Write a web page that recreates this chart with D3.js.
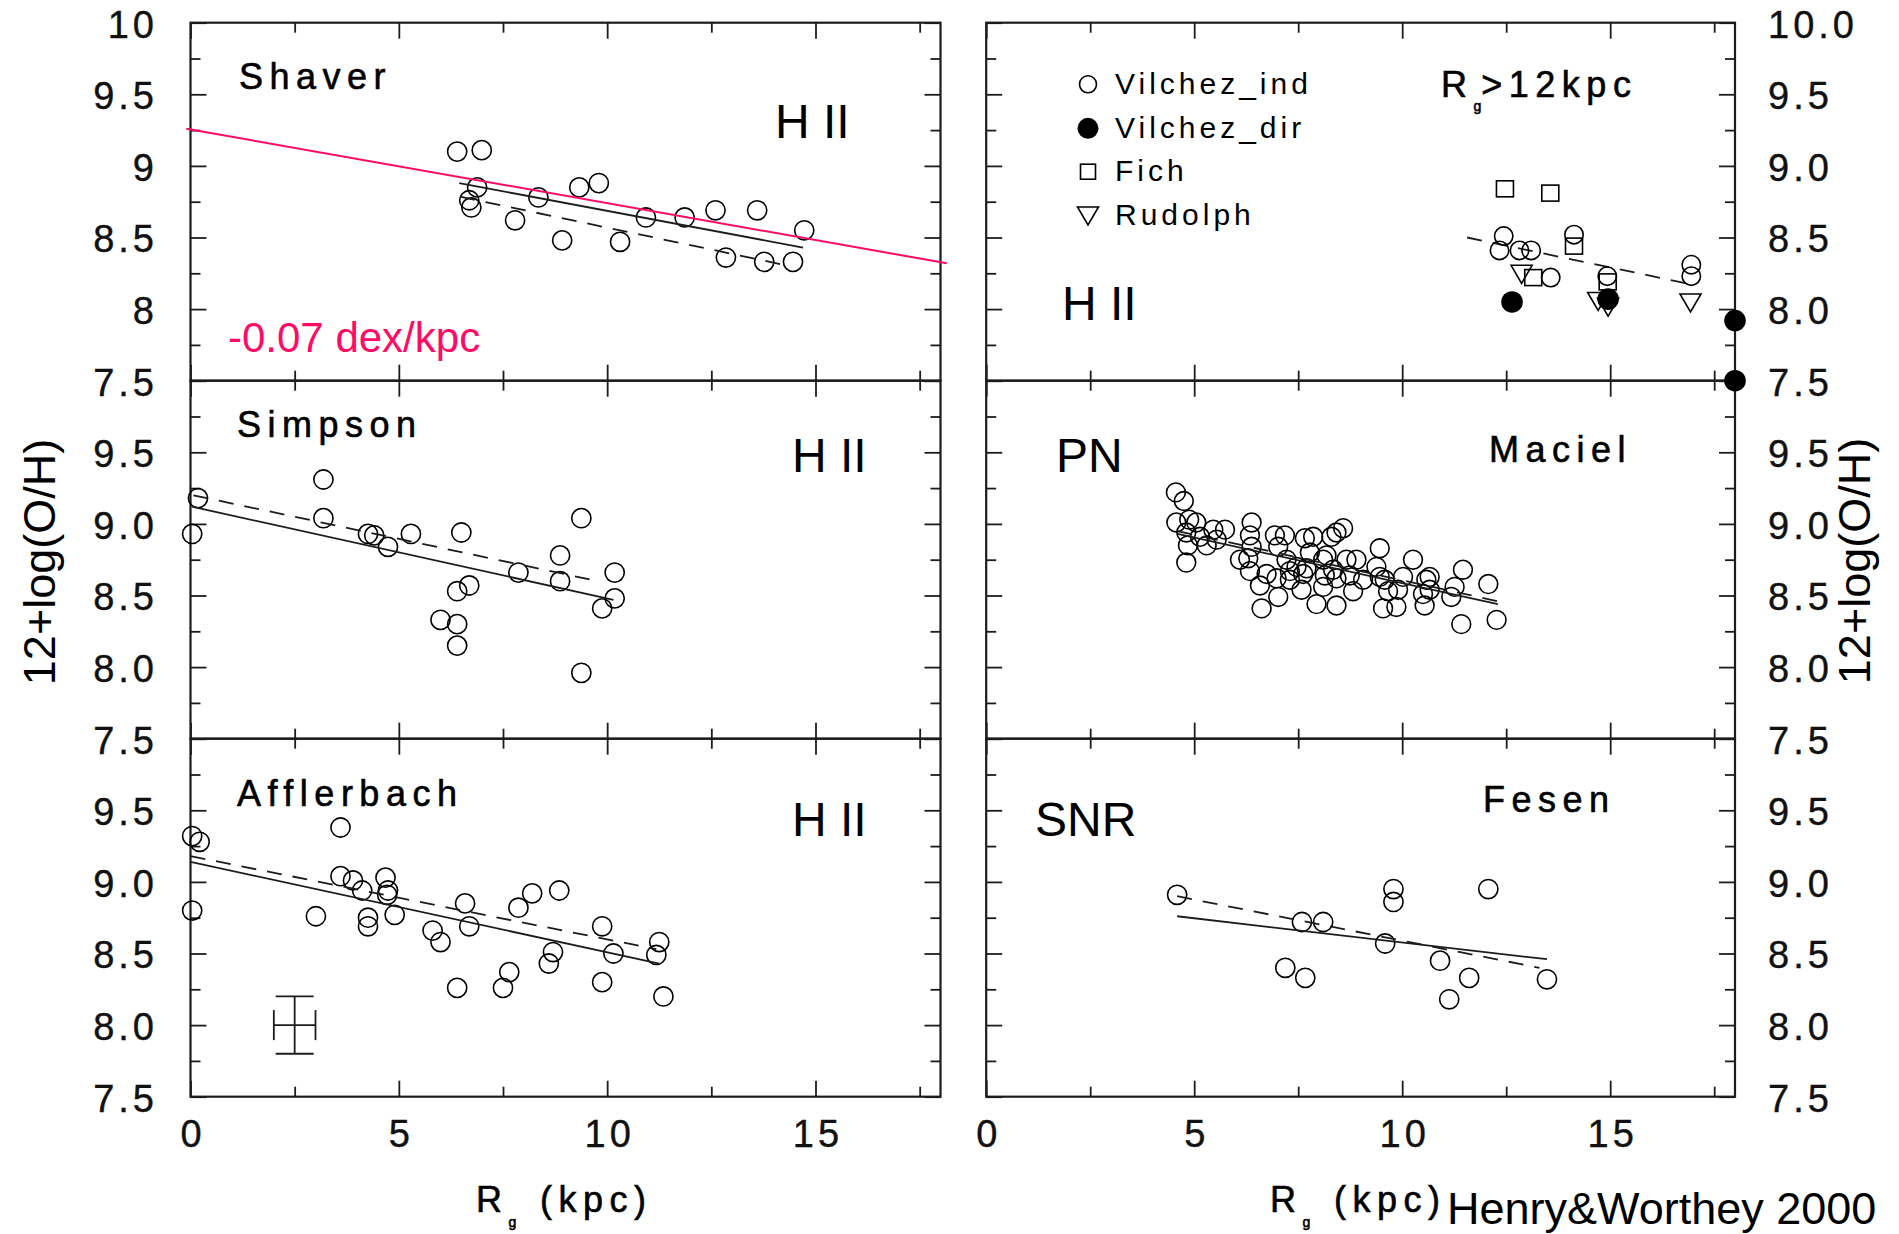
<!DOCTYPE html>
<html>
<head>
<meta charset="utf-8">
<script src="https://cdn.jsdelivr.net/npm/d3@7"></script>
<style>
body{margin:0;background:#fff;}
text{font-family:"Liberation Sans",Arial,sans-serif;}
</style>
</head>
<body>
<script>
// ---- data (Rg in kpc, 12+log(O/H)) ----
var shaver = [[6.40,9.10],[6.99,9.11],[6.88,8.85],[6.69,8.76],[6.74,8.71],[7.79,8.62],[8.35,8.78],[8.92,8.48],[9.33,8.85],[9.80,8.88],[10.31,8.47],[10.93,8.64],[11.86,8.64],[12.60,8.69],[12.85,8.36],[13.60,8.69],[13.77,8.33],[14.46,8.33],[14.73,8.55]];
var shaverFit = [[6.45,8.88],[14.70,8.43]];
var shaverFitDash = [[6.47,8.785],[14.23,8.31]];
var shaverGradient = [[-0.1,9.26],[18.15,8.32]];

var simpson = [[0.04,8.93],[0.18,9.18],[3.19,9.31],[3.19,9.04],[4.26,8.93],[4.41,8.92],[4.74,8.84],[5.29,8.93],[6.50,8.94],[6.69,8.57],[6.40,8.53],[6.00,8.33],[6.40,8.30],[6.40,8.15],[7.87,8.66],[8.87,8.78],[8.87,8.60],[9.38,9.04],[9.38,7.96],[10.18,8.66],[10.18,8.48],[9.88,8.41]];
var simpsonFit = [[0.04,9.12],[10.15,8.47]];
var simpsonFitDash = [[0.07,9.20],[9.78,8.60]];

var afflerbach = [[0.04,9.32],[0.22,9.28],[0.04,8.80],[3.01,8.76],[3.60,9.38],[3.60,9.04],[3.90,9.01],[4.12,8.94],[4.26,8.75],[4.26,8.69],[4.68,9.03],[4.74,8.94],[4.72,8.91],[4.90,8.77],[5.81,8.66],[6.00,8.58],[6.40,8.26],[6.59,8.85],[6.69,8.69],[7.50,8.26],[7.65,8.37],[7.87,8.82],[8.20,8.92],[8.60,8.43],[8.70,8.51],[8.85,8.94],[9.88,8.69],[9.88,8.30],[10.15,8.50],[11.18,8.49],[11.25,8.58],[11.35,8.20]];
var afflerbachFit = [[0.0,9.14],[11.25,8.43]];
var afflerbachFitDash = [[0.0,9.18],[11.18,8.53]];
var errBar = {x:2.5, y:8.0, dx:0.5, dy:0.2};

var vilchezInd = [[12.44,8.51],[12.34,8.41],[12.82,8.41],[13.10,8.41],[13.57,8.22],[14.13,8.52],[14.93,8.23],[16.95,8.31],[16.95,8.23]];
var vilchezDir = [[12.64,8.05],[14.95,8.07],[18.0,7.92],[18.0,7.50]];
var fich = [[12.47,8.84],[13.56,8.81],[14.13,8.44],[13.15,8.22],[14.94,8.19]];
var rudolph = [[12.87,8.25],[14.71,8.06],[14.95,8.02],[16.93,8.05]];
var outerFitDash = [[11.56,8.50],[17.0,8.17]];

var maciel = [[4.56,9.22],[4.75,9.16],[4.57,9.01],[4.88,9.03],[5.05,9.01],[4.81,8.94],[5.14,8.91],[5.30,8.85],[5.46,8.96],[5.74,8.96],[4.81,8.73],[4.85,8.85],[6.38,9.01],[6.34,8.92],[6.30,8.76],[6.38,8.84],[6.34,8.67],[6.58,8.57],[6.62,8.41],[6.94,8.92],[7.18,8.92],[7.02,8.84],[7.22,8.75],[7.30,8.67],[6.98,8.62],[7.30,8.61],[7.02,8.49],[7.46,8.70],[7.66,8.90],[7.86,8.91],[7.78,8.80],[7.70,8.69],[8.10,8.75],[8.30,8.91],[8.58,8.97],[8.42,8.94],[8.14,8.64],[8.34,8.68],[8.42,8.62],[8.66,8.75],[8.74,8.64],[8.90,8.75],[8.10,8.56],[7.94,8.44],[8.42,8.43],[8.82,8.53],[8.18,8.78],[9.46,8.83],[9.46,8.63],[9.38,8.70],[9.58,8.61],[9.66,8.53],[9.54,8.41],[9.86,8.42],[9.90,8.54],[10.26,8.75],[10.02,8.63],[10.58,8.61],[10.66,8.63],[10.50,8.51],[10.54,8.43],[10.66,8.54],[11.18,8.49],[11.26,8.56],[11.46,8.68],[12.07,8.58],[11.42,8.30],[12.27,8.33],[7.62,8.65],[6.74,8.65],[6.10,8.75],[5.54,8.89],[9.06,8.61],[7.58,8.54]];
var macielFit = [[4.6,8.93],[12.3,8.44]];
var macielFitDash = [[4.6,8.95],[12.3,8.46]];

var fesen = [[4.59,8.91],[7.19,8.40],[7.67,8.33],[7.59,8.72],[8.10,8.72],[9.59,8.57],[9.79,8.95],[9.79,8.86],[10.91,8.45],[11.13,8.18],[11.61,8.33],[12.07,8.95],[13.48,8.32]];
var fesenFit = [[4.59,8.76],[13.48,8.46]];
var fesenFitDash = [[4.59,8.90],[13.30,8.40]];

var xMajor = [0,5,10,15], xMinor = [2.5,7.5,12.5,17.5];
var xTickLabels = ["0","5","10","15"];
var yMajor = [7.5,8,8.5,9,9.5,10], yMinor = [7.75,8.25,8.75,9.25,9.75];
var yLabelsLeftTop = ["7.5","8","8.5","9","9.5","10"];
var yLabelsRightTop = ["7.5","8.0","8.5","9.0","9.5","10.0"];
var yLabelsLower = ["7.5","8.0","8.5","9.0","9.5"];

var legendNames = ["Vilchez_ind","Vilchez_dir","Fich","Rudolph"];

// ---- layout ----
var width = 1899, height = 1234;
var tops = [22.7, 380.7, 738.7], ph = 358;
var ink = "#1c1c1c";
var pink = "#ff0a64";

var svg = d3.select("body").append("svg")
	.attr("width", width)
	.attr("height", height);

var xLeft = d3.scaleLinear().domain([0,18]).range([190.5,940.5]);
var xRight = d3.scaleLinear().domain([0,18]).range([986.2,1735]);
var yScales = tops.map(function(t){ return d3.scaleLinear().domain([7.5,10]).range([t+ph, t]); });

var line = function(x, y){ return d3.line().x(function(d){return x(d[0]);}).y(function(d){return y(d[1]);}); };

function tickAxes(x, y){
	var x0 = x.range()[0], x1 = x.range()[1], yb = y.range()[0], yt = y.range()[1];
	var g = svg.append("g").attr("stroke", ink);
	var defs = [
		[d3.axisBottom(x).tickValues(xMajor).tickSize(-16), "translate(0,"+yb+")"],
		[d3.axisBottom(x).tickValues(xMinor).tickSize(-10), "translate(0,"+yb+")"],
		[d3.axisTop(x).tickValues(xMajor).tickSize(-16), "translate(0,"+yt+")"],
		[d3.axisTop(x).tickValues(xMinor).tickSize(-10), "translate(0,"+yt+")"],
		[d3.axisLeft(y).tickValues(yMajor).tickSize(-16), "translate("+x0+",0)"],
		[d3.axisLeft(y).tickValues(yMinor).tickSize(-10), "translate("+x0+",0)"],
		[d3.axisRight(y).tickValues(yMajor).tickSize(-16), "translate("+x1+",0)"],
		[d3.axisRight(y).tickValues(yMinor).tickSize(-10), "translate("+x1+",0)"]
	];
	defs.forEach(function(d){
		g.append("g").attr("transform", d[1])
			.call(d[0].tickSizeOuter(0).tickFormat(""))
			.call(function(s){ s.select(".domain").remove(); s.selectAll("line").attr("stroke", ink).attr("stroke-width", 1.8); });
	});
	svg.append("rect")
		.attr("x", x0).attr("y", yt)
		.attr("width", x1-x0).attr("height", yb-yt)
		.attr("fill", "none").attr("stroke", ink).attr("stroke-width", 2.2);
}

function styleLabels(s){
	s.select(".domain").remove();
	s.selectAll("text")
		.attr("font-family", "'Liberation Sans', Arial, sans-serif")
		.attr("font-size", 38)
		.attr("letter-spacing", 4)
		.attr("fill", "#111")
		.attr("stroke", "#111")
		.attr("stroke-width", 0.4);
}

function yLabels(y, side, vals, labels){
	var ax = side == "left" ? d3.axisLeft(y).tickPadding(32.5) : d3.axisRight(y).tickPadding(33);
	var pos = side == "left" ? 190.5 : 1735;
	svg.append("g").attr("transform", "translate("+pos+",0)")
		.call(ax.tickValues(vals).tickSize(0).tickFormat(function(d,i){ return labels[i]; }))
		.call(styleLabels)
		.selectAll("text").attr("dy", "0.38em");
}

function xLabels(x, y){
	svg.append("g").attr("transform", "translate(2,"+y.range()[0]+")")
		.call(d3.axisBottom(x).tickValues(xMajor).tickSize(0).tickPadding(23).tickFormat(function(d,i){ return xTickLabels[i]; }))
		.call(styleLabels);
}

function circles(data, x, y, filled, r){
	svg.append("g").selectAll("circle").data(data).join("circle")
		.attr("cx", function(d){return x(d[0]);})
		.attr("cy", function(d){return y(d[1]);})
		.attr("r", r)
		.attr("fill", filled ? "#000" : "none")
		.attr("stroke", "#000")
		.attr("stroke-width", filled ? 0 : 1.6);
}

function fits(solid, dashed, x, y){
	if (solid) svg.append("path").datum(solid).attr("d", line(x,y)).attr("fill","none").attr("stroke",ink).attr("stroke-width",1.8);
	if (dashed) svg.append("path").datum(dashed).attr("d", line(x,y)).attr("fill","none").attr("stroke",ink).attr("stroke-width",1.8).attr("stroke-dasharray","15,11");
}

function label(txt, x, y, size, opts){
	opts = opts || {};
	return svg.append("text").attr("x", x).attr("y", y)
		.attr("font-size", size)
		.attr("letter-spacing", opts.ls || 0)
		.attr("fill", opts.fill || "#000")
		.attr("stroke", opts.bold ? "#000" : null)
		.attr("stroke-width", opts.bold ? 0.6 : null)
		.text(txt);
}

// ---- panels ----
for (var i = 0; i < 3; i++){
	tickAxes(xLeft, yScales[i]);
	tickAxes(xRight, yScales[i]);
}
yLabels(yScales[0], "left", yMajor, yLabelsLeftTop);
yLabels(yScales[1], "left", yMajor.slice(0,5), yLabelsLower);
yLabels(yScales[2], "left", yMajor.slice(0,5), yLabelsLower);
yLabels(yScales[0], "right", yMajor, yLabelsRightTop);
yLabels(yScales[1], "right", yMajor.slice(0,5), yLabelsLower);
yLabels(yScales[2], "right", yMajor.slice(0,5), yLabelsLower);
xLabels(xLeft, yScales[2]);
xLabels(xRight, yScales[2]);

// Shaver
circles(shaver, xLeft, yScales[0], false, 9.6);
fits(shaverFit, shaverFitDash, xLeft, yScales[0]);
svg.append("path").datum(shaverGradient).attr("d", line(xLeft, yScales[0]))
	.attr("fill","none").attr("stroke", pink).attr("stroke-width", 2);
label("Shaver", 239, 89, 36, {ls:6.5, bold:true});
label("H II", 775, 138, 48);
label("-0.07 dex/kpc", 228, 351.5, 42, {fill:pink});

// Simpson
circles(simpson, xLeft, yScales[1], false, 9.6);
fits(simpsonFit, simpsonFitDash, xLeft, yScales[1]);
label("Simpson", 237, 437, 36, {ls:6.5, bold:true});
label("H II", 792, 471.5, 48);

// Afflerbach
circles(afflerbach, xLeft, yScales[2], false, 9.6);
fits(afflerbachFit, afflerbachFitDash, xLeft, yScales[2]);
label("Afflerbach", 237, 806, 36, {ls:6.5, bold:true});
label("H II", 792, 836, 48);
(function(){
	var x = xLeft, y = yScales[2], cx = x(errBar.x), cy = y(errBar.y);
	var x1 = x(errBar.x - errBar.dx), x2 = x(errBar.x + errBar.dx), y1 = y(errBar.y + errBar.dy), y2 = y(errBar.y - errBar.dy);
	var g = svg.append("g").attr("stroke", ink).attr("stroke-width", 1.8);
	g.append("line").attr("x1", cx).attr("x2", cx).attr("y1", y1).attr("y2", y2);
	g.append("line").attr("x1", x1).attr("x2", x2).attr("y1", cy).attr("y2", cy);
	g.append("line").attr("x1", cx-19).attr("x2", cx+19).attr("y1", y1).attr("y2", y1);
	g.append("line").attr("x1", cx-19).attr("x2", cx+19).attr("y1", y2).attr("y2", y2);
	g.append("line").attr("x1", x1).attr("x2", x1).attr("y1", cy-15).attr("y2", cy+15);
	g.append("line").attr("x1", x2).attr("x2", x2).attr("y1", cy-15).attr("y2", cy+15);
})();

// outer disk (Rg > 12 kpc)
(function(){
	var x = xRight, y = yScales[0];
	fits(null, outerFitDash, x, y);
	circles(vilchezInd, x, y, false, 9.2);
	circles(vilchezDir, x, y, true, 10.8);
	svg.append("g").selectAll("rect").data(fich).join("rect")
		.attr("x", function(d){return x(d[0])-8.5;})
		.attr("y", function(d){return y(d[1])-8;})
		.attr("width", 17).attr("height", 16)
		.attr("fill","none").attr("stroke","#000").attr("stroke-width",1.6);
	svg.append("g").selectAll("path").data(rudolph).join("path")
		.attr("transform", function(d){return "translate("+x(d[0])+","+y(d[1])+")";})
		.attr("d", "M-10.5,-8L10.5,-8L0,10Z")
		.attr("fill","none").attr("stroke","#000").attr("stroke-width",1.6);

	// legend
	var rows = [84.3,128.3,171.7,215], lx = 1088;
	svg.append("circle").attr("cx", lx).attr("cy", rows[0]).attr("r", 8.5).attr("fill","none").attr("stroke","#000").attr("stroke-width",1.6);
	svg.append("circle").attr("cx", lx).attr("cy", rows[1]).attr("r", 10.5).attr("fill","#000");
	svg.append("rect").attr("x", lx-7.5).attr("y", rows[2]-7.5).attr("width",15).attr("height",15).attr("fill","none").attr("stroke","#000").attr("stroke-width",1.6);
	svg.append("path").attr("transform","translate("+lx+","+rows[3]+")").attr("d","M-10.5,-8L10.5,-8L0,10Z").attr("fill","none").attr("stroke","#000").attr("stroke-width",1.6);
	legendNames.forEach(function(n,i){ label(n, 1115, rows[i]+9.5, 30, {ls:4}); });

	var t = svg.append("text").attr("x", 1441).attr("y", 97).attr("font-size", 36).attr("letter-spacing", 6.5)
		.attr("stroke","#000").attr("stroke-width",0.6);
	t.append("tspan").text("R");
	t.append("tspan").attr("font-size", 14).attr("dy", 14).attr("letter-spacing", 0).text("g");
	t.append("tspan").attr("dy", -14).text(">12kpc");
	label("H II", 1062, 320, 48);
})();

// Maciel PN
circles(maciel, xRight, yScales[1], false, 9.4);
fits(macielFit, macielFitDash, xRight, yScales[1]);
label("Maciel", 1489, 462, 36, {ls:6.5, bold:true});
label("PN", 1056, 471.5, 48);

// Fesen SNR
circles(fesen, xRight, yScales[2], false, 9.6);
fits(fesenFit, fesenFitDash, xRight, yScales[2]);
label("Fesen", 1483, 812, 36, {ls:6.5, bold:true});
label("SNR", 1035, 836, 48);

// ---- axis titles ----
function xTitle(x0){
	var t = svg.append("text").attr("x", x0).attr("y", 1212).attr("font-size", 36).attr("letter-spacing", 6.5)
		.attr("stroke","#000").attr("stroke-width",0.6);
	t.append("tspan").text("R");
	t.append("tspan").attr("font-size", 14).attr("dy", 15).attr("letter-spacing", 0).text("g");
	t.append("tspan").attr("x", x0+64).attr("dy", -15).text("(kpc)");
}
xTitle(476);
xTitle(1270);

svg.append("text").attr("transform","translate(55,562) rotate(-90)")
	.attr("text-anchor","middle").attr("font-size",45).text("12+log(O/H)");
svg.append("text").attr("transform","translate(1870,561) rotate(-90)")
	.attr("text-anchor","middle").attr("font-size",45).text("12+log(O/H)");

label("Henry&Worthey 2000", 1447, 1224, 45);
</script>
</body>
</html>
